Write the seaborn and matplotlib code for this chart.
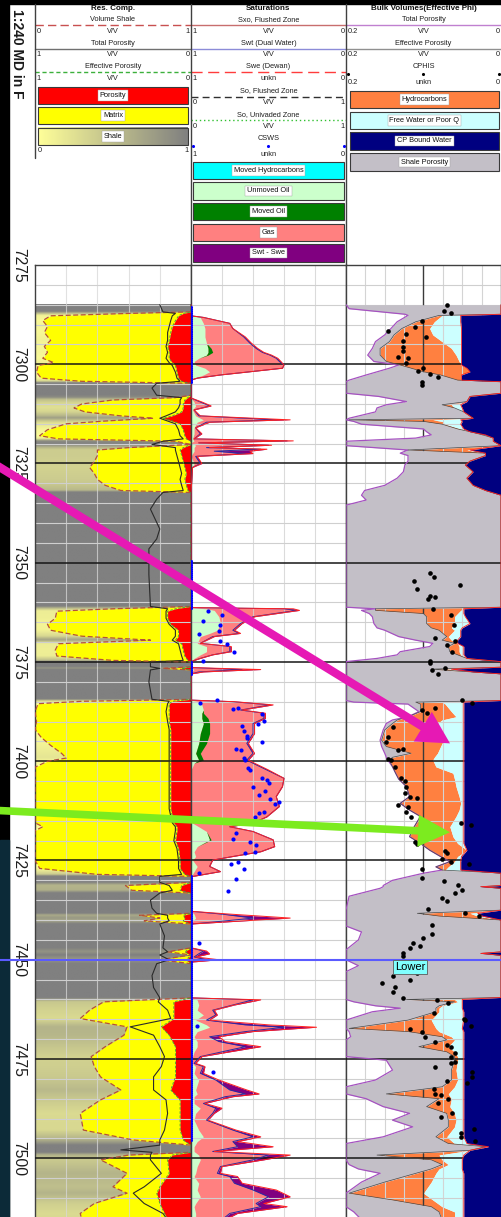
import numpy as np
import matplotlib
matplotlib.use("Agg")
import matplotlib.pyplot as plt
import matplotlib.transforms as mtransforms
from matplotlib.colors import LinearSegmentedColormap
from matplotlib.patches import Rectangle
import seaborn as sns

sns.set_style("white")
plt.rcParams["font.family"] = ["Liberation Sans", "DejaVu Sans"]

# ------------------------------------------------------------------
# Res. Comp. track: volume of shale, total and effective porosity
# ------------------------------------------------------------------
DEPTH_RC = [
    7285.0, 7286.8, 7287.2, 7287.8, 7289.0, 7290.5, 7292.0, 7294.0, 7295.5, 7297.0,
    7298.5, 7299.6, 7300.3, 7302.0, 7303.5, 7304.3, 7304.8, 7306.0, 7307.8, 7308.4,
    7309.0, 7310.0, 7311.0, 7312.0, 7313.0, 7313.6, 7314.3, 7315.0, 7316.5, 7318.0,
    7318.8, 7319.4, 7320.2, 7321.0, 7321.6, 7323.0, 7324.5, 7326.0, 7327.5, 7329.0,
    7330.5, 7331.8, 7332.3, 7334.0, 7336.5, 7339.0, 7341.5, 7344.0, 7346.5, 7353.0,
    7361.0, 7361.6, 7362.2, 7364.0, 7365.5, 7367.0, 7368.5, 7369.5, 7370.4, 7372.0,
    7373.5, 7374.6, 7375.0, 7376.2, 7376.6, 7377.0, 7380.0, 7384.4, 7384.9, 7385.5,
    7387.5, 7390.0, 7392.0, 7394.0, 7396.0, 7398.0, 7399.2, 7400.0, 7401.5, 7404.0,
    7408.0, 7412.0, 7415.5, 7416.5, 7417.5, 7420.0, 7422.0, 7425.0, 7427.0, 7428.5,
    7429.0, 7430.5, 7431.3, 7432.5, 7433.2, 7435.0, 7437.0, 7438.3, 7438.8, 7439.5,
    7440.2, 7441.0, 7444.0, 7447.0, 7448.0, 7448.8, 7450.0, 7451.0, 7454.0, 7457.0,
    7459.6, 7460.6, 7462.7, 7464.8, 7466.9, 7469.0, 7471.9, 7474.4, 7476.9, 7479.5,
    7482.8, 7485.3, 7488.7, 7492.9, 7495.4, 7496.7, 7497.9, 7498.5, 7499.2, 7500.4,
    7503.8, 7507.2, 7508.8, 7511.4, 7513.9, 7515.5]
VSH = [
    1.00, 1.00, 0.60, 0.10, 0.05, 0.08, 0.06, 0.10, 0.06, 0.08,
    0.05, 0.12, 0.02, 0.01, 0.04, 0.30, 1.00, 1.00, 1.00, 0.90,
    0.50, 0.30, 0.25, 0.32, 0.55, 0.76, 0.45, 0.20, 0.08, 0.03,
    0.15, 0.90, 1.00, 0.60, 0.40, 0.40, 0.38, 0.35, 0.38, 0.40,
    0.45, 0.55, 1.00, 1.00, 1.00, 1.00, 1.00, 1.00, 1.00, 1.00,
    1.00, 0.50, 0.14, 0.13, 0.08, 0.10, 0.30, 0.74, 0.15, 0.13,
    0.14, 0.50, 1.00, 1.00, 0.82, 1.00, 1.00, 1.00, 0.30, 0.02,
    0.00, 0.01, 0.00, 0.04, 0.10, 0.17, 0.20, 0.08, 0.00, 0.00,
    0.00, 0.00, 0.00, 0.05, 0.00, 0.00, 0.00, 0.00, 0.03, 0.40,
    1.00, 1.00, 0.58, 0.62, 1.00, 1.00, 1.00, 1.00, 0.67, 0.80,
    0.70, 1.00, 1.00, 1.00, 0.85, 1.00, 0.80, 1.00, 1.00, 1.00,
    1.00, 0.44, 0.35, 0.29, 0.59, 0.57, 0.45, 0.36, 0.38, 0.42,
    0.55, 0.42, 0.29, 0.31, 0.63, 1.00, 1.00, 1.00, 0.60, 0.42,
    0.59, 0.50, 0.59, 0.38, 0.29, 0.30]
PHIT = [
    0.20, 0.18, 0.10, 0.12, 0.13, 0.14, 0.15, 0.15, 0.16, 0.15,
    0.16, 0.14, 0.12, 0.10, 0.09, 0.07, 0.22, 0.25, 0.22, 0.06,
    0.07, 0.07, 0.08, 0.10, 0.16, 0.20, 0.15, 0.10, 0.08, 0.07,
    0.05, 0.18, 0.25, 0.10, 0.10, 0.09, 0.08, 0.07, 0.06, 0.07,
    0.06, 0.05, 0.18, 0.22, 0.26, 0.23, 0.20, 0.22, 0.27, 0.27,
    0.26, 0.15, 0.16, 0.16, 0.14, 0.10, 0.10, 0.12, 0.08, 0.07,
    0.06, 0.05, 0.26, 0.26, 0.20, 0.26, 0.27, 0.25, 0.14, 0.15,
    0.16, 0.15, 0.14, 0.14, 0.14, 0.14, 0.14, 0.14, 0.14, 0.14,
    0.14, 0.14, 0.12, 0.10, 0.10, 0.11, 0.09, 0.08, 0.08, 0.06,
    0.20, 0.20, 0.14, 0.12, 0.20, 0.26, 0.25, 0.22, 0.15, 0.15,
    0.14, 0.20, 0.17, 0.18, 0.15, 0.20, 0.14, 0.22, 0.25, 0.24,
    0.20, 0.21, 0.15, 0.13, 0.39, 0.24, 0.20, 0.17, 0.19, 0.24,
    0.24, 0.16, 0.15, 0.17, 0.20, 0.20, 0.45, 0.25, 0.26, 0.26,
    0.19, 0.30, 0.37, 0.30, 0.18, 0.15]
PHIE = [
    0.00, 0.00, 0.05, 0.08, 0.10, 0.12, 0.13, 0.14, 0.15, 0.14,
    0.14, 0.12, 0.10, 0.09, 0.08, 0.06, 0.00, 0.00, 0.00, 0.02,
    0.04, 0.05, 0.05, 0.06, 0.12, 0.18, 0.12, 0.07, 0.05, 0.04,
    0.03, 0.00, 0.00, 0.05, 0.07, 0.06, 0.05, 0.04, 0.03, 0.04,
    0.03, 0.02, 0.00, 0.00, 0.00, 0.00, 0.00, 0.00, 0.00, 0.00,
    0.00, 0.10, 0.15, 0.15, 0.13, 0.08, 0.08, 0.10, 0.06, 0.05,
    0.04, 0.02, 0.00, 0.00, 0.06, 0.00, 0.00, 0.00, 0.12, 0.14,
    0.14, 0.14, 0.13, 0.13, 0.13, 0.13, 0.13, 0.13, 0.13, 0.13,
    0.13, 0.13, 0.11, 0.09, 0.09, 0.10, 0.08, 0.07, 0.07, 0.04,
    0.00, 0.00, 0.06, 0.07, 0.00, 0.00, 0.00, 0.00, 0.05, 0.04,
    0.05, 0.00, 0.00, 0.00, 0.04, 0.00, 0.03, 0.00, 0.00, 0.00,
    0.00, 0.11, 0.11, 0.11, 0.19, 0.14, 0.10, 0.10, 0.10, 0.10,
    0.13, 0.07, 0.07, 0.07, 0.05, 0.00, 0.00, 0.00, 0.12, 0.15,
    0.14, 0.20, 0.22, 0.20, 0.17, 0.15]

# ------------------------------------------------------------------
# Saturations track
# ------------------------------------------------------------------
DEPTH_SAT = [
    7285.0, 7287.8, 7288.2, 7289.7, 7291.0, 7293.1, 7294.7, 7296.0, 7297.0, 7297.7,
    7298.5, 7299.3, 7300.2, 7301.0, 7301.9, 7302.7, 7303.5, 7304.0, 7308.5, 7309.5,
    7310.5, 7311.5, 7313.0, 7314.0, 7314.6, 7316.0, 7317.5, 7318.8, 7319.3, 7319.8,
    7320.4, 7321.0, 7321.4, 7321.9, 7322.5, 7323.2, 7325.0, 7326.0, 7332.5, 7361.3,
    7361.6, 7362.0, 7363.6, 7365.3, 7367.0, 7367.8, 7368.6, 7370.3, 7371.1, 7372.4,
    7373.2, 7374.1, 7374.9, 7376.4, 7376.9, 7377.5, 7378.0, 7384.6, 7385.0, 7385.8,
    7387.1, 7387.9, 7389.2, 7390.5, 7393.0, 7395.5, 7398.0, 7399.7, 7400.5, 7402.2,
    7404.3, 7406.4, 7408.9, 7411.4, 7414.0, 7415.6, 7416.5, 7417.7, 7419.8, 7421.5,
    7422.8, 7424.0, 7424.9, 7426.5, 7427.8, 7429.1, 7437.8, 7438.5, 7439.5, 7440.3,
    7441.0, 7447.0, 7447.8, 7448.5, 7449.3, 7450.0, 7450.6, 7459.6, 7460.1, 7461.4,
    7462.7, 7463.9, 7465.2, 7466.4, 7467.0, 7468.1, 7469.4, 7470.6, 7471.9, 7473.2,
    7474.4, 7476.1, 7476.9, 7478.6, 7480.3, 7482.8, 7483.8, 7484.5, 7486.2, 7487.4,
    7488.7, 7490.4, 7492.9, 7494.6, 7495.8, 7497.1, 7498.3, 7499.2, 7500.4, 7502.1,
    7503.8, 7504.6, 7506.3, 7508.0, 7509.7, 7511.4, 7512.2, 7513.9, 7515.5]
SWE = [
    1.00, 1.00, 0.92, 0.75, 0.73, 0.66, 0.62, 0.58, 0.54, 0.49,
    0.45, 0.43, 0.40, 0.41, 0.62, 0.81, 0.96, 1.00, 1.00, 0.94,
    0.88, 0.98, 0.95, 0.45, 0.90, 0.97, 0.94, 0.98, 0.38, 0.95,
    0.50, 0.90, 0.55, 0.85, 0.65, 0.97, 0.94, 0.99, 1.00, 1.00,
    0.40, 0.32, 0.60, 0.68, 0.73, 0.69, 0.86, 0.94, 0.75, 0.75,
    0.86, 0.94, 1.00, 1.00, 0.67, 0.95, 1.00, 1.00, 0.73, 0.49,
    0.68, 0.53, 0.53, 0.60, 0.60, 0.64, 0.60, 0.64, 0.60, 0.51,
    0.40, 0.41, 0.45, 0.43, 0.51, 0.60, 0.75, 0.60, 0.47, 0.46,
    0.55, 0.73, 0.86, 0.88, 0.81, 1.00, 1.00, 0.80, 0.60, 0.80,
    1.00, 1.00, 0.92, 0.95, 0.98, 0.90, 1.00, 1.00, 0.60, 0.73,
    0.86, 0.84, 0.90, 0.65, 0.40, 0.65, 0.88, 0.82, 0.65, 0.80,
    0.94, 0.98, 0.92, 0.94, 0.84, 0.75, 0.65, 0.78, 0.92, 0.84,
    0.86, 0.90, 0.73, 0.60, 0.73, 0.70, 0.86, 0.50, 0.60, 0.81,
    0.83, 0.75, 0.72, 0.60, 0.50, 0.58, 0.55, 0.75, 0.80]
SWT = [
    1.00, 1.00, 0.92, 0.75, 0.73, 0.65, 0.61, 0.57, 0.53, 0.48,
    0.44, 0.42, 0.40, 0.41, 0.62, 0.81, 0.96, 1.00, 1.00, 0.93,
    0.87, 0.98, 0.94, 0.36, 0.88, 0.97, 0.93, 0.98, 0.34, 0.95,
    0.48, 0.88, 0.51, 0.62, 0.60, 0.96, 0.93, 0.99, 1.00, 1.00,
    0.34, 0.30, 0.59, 0.67, 0.72, 0.68, 0.85, 0.94, 0.74, 0.74,
    0.86, 0.94, 1.00, 1.00, 0.55, 0.92, 1.00, 1.00, 0.72, 0.47,
    0.67, 0.52, 0.52, 0.59, 0.59, 0.63, 0.59, 0.63, 0.59, 0.50,
    0.40, 0.41, 0.45, 0.43, 0.51, 0.60, 0.75, 0.60, 0.47, 0.46,
    0.55, 0.73, 0.86, 0.88, 0.81, 1.00, 1.00, 0.75, 0.36, 0.70,
    1.00, 1.00, 0.90, 0.88, 0.97, 0.82, 1.00, 1.00, 0.55, 0.72,
    0.85, 0.83, 0.88, 0.50, 0.19, 0.60, 0.82, 0.78, 0.55, 0.75,
    0.93, 0.97, 0.91, 0.92, 0.82, 0.64, 0.56, 0.73, 0.91, 0.80,
    0.85, 0.89, 0.71, 0.55, 0.70, 0.47, 0.85, 0.36, 0.53, 0.80,
    0.81, 0.70, 0.67, 0.45, 0.36, 0.53, 0.38, 0.70, 0.78]
SOXO = [
    0.00, 0.00, 0.06, 0.08, 0.09, 0.09, 0.10, 0.11, 0.11, 0.10,
    0.05, 0.02, 0.03, 0.09, 0.12, 0.08, 0.02, 0.00, 0.00, 0.02,
    0.03, 0.01, 0.03, 0.08, 0.04, 0.02, 0.02, 0.01, 0.02, 0.00,
    0.03, 0.02, 0.02, 0.02, 0.01, 0.00, 0.02, 0.01, 0.00, 0.00,
    0.10, 0.15, 0.18, 0.19, 0.17, 0.12, 0.06, 0.04, 0.10, 0.10,
    0.06, 0.02, 0.00, 0.00, 0.02, 0.00, 0.00, 0.00, 0.05, 0.07,
    0.08, 0.07, 0.07, 0.08, 0.06, 0.05, 0.03, 0.05, 0.02, 0.00,
    0.00, 0.00, 0.00, 0.00, 0.00, 0.01, 0.05, 0.10, 0.12, 0.04,
    0.02, 0.03, 0.01, 0.04, 0.02, 0.00, 0.00, 0.02, 0.03, 0.01,
    0.00, 0.00, 0.00, 0.00, 0.00, 0.00, 0.00, 0.00, 0.04, 0.05,
    0.04, 0.08, 0.03, 0.10, 0.12, 0.04, 0.02, 0.04, 0.04, 0.02,
    0.01, 0.01, 0.03, 0.02, 0.05, 0.03, 0.04, 0.02, 0.02, 0.06,
    0.03, 0.02, 0.05, 0.08, 0.04, 0.02, 0.02, 0.05, 0.06, 0.04,
    0.03, 0.02, 0.05, 0.04, 0.06, 0.03, 0.02, 0.03, 0.03]
SO = [
    0.00, 0.00, 0.06, 0.08, 0.09, 0.09, 0.10, 0.13, 0.14, 0.11,
    0.05, 0.02, 0.03, 0.09, 0.12, 0.08, 0.02, 0.00, 0.00, 0.02,
    0.03, 0.01, 0.03, 0.08, 0.04, 0.02, 0.02, 0.01, 0.02, 0.00,
    0.03, 0.02, 0.02, 0.02, 0.01, 0.00, 0.02, 0.01, 0.00, 0.00,
    0.10, 0.15, 0.18, 0.19, 0.17, 0.12, 0.06, 0.04, 0.10, 0.10,
    0.06, 0.02, 0.00, 0.00, 0.02, 0.00, 0.00, 0.00, 0.05, 0.07,
    0.08, 0.08, 0.11, 0.12, 0.12, 0.10, 0.06, 0.08, 0.02, 0.00,
    0.00, 0.00, 0.00, 0.00, 0.00, 0.01, 0.05, 0.10, 0.13, 0.04,
    0.02, 0.03, 0.01, 0.04, 0.02, 0.00, 0.00, 0.02, 0.03, 0.01,
    0.00, 0.00, 0.00, 0.00, 0.00, 0.00, 0.00, 0.00, 0.04, 0.05,
    0.04, 0.08, 0.03, 0.10, 0.12, 0.04, 0.02, 0.04, 0.04, 0.02,
    0.01, 0.01, 0.03, 0.02, 0.05, 0.03, 0.04, 0.02, 0.02, 0.06,
    0.03, 0.02, 0.05, 0.08, 0.04, 0.02, 0.02, 0.05, 0.06, 0.04,
    0.03, 0.02, 0.05, 0.04, 0.06, 0.03, 0.02, 0.03, 0.03]

# CSWS samples away from unity, and intervals logged at CSWS = 1
CSWS_DEPTH = [
    7362.1, 7364.6, 7363.2, 7365.7, 7367.1, 7367.9, 7369.6, 7370.5, 7372.6, 7374.7,
    7384.6, 7385.4, 7386.9, 7386.7, 7388.1, 7389.8, 7390.6, 7391.1, 7392.3, 7393.6,
    7394.2, 7395.1, 7396.8, 7397.2, 7399.3, 7399.7, 7401.8, 7402.2, 7404.1, 7404.7,
    7405.4, 7406.6, 7407.5, 7408.5, 7409.6, 7410.8, 7410.2, 7412.7, 7413.1, 7414.0,
    7418.0, 7419.7, 7420.3, 7421.1, 7422.8, 7423.2, 7425.5, 7425.9, 7427.2, 7428.1,
    7429.7, 7432.6, 7445.7, 7466.7, 7478.2]
CSWS = [
    0.89, 0.92, 0.80, 0.81, 0.82, 0.95, 0.81, 0.77, 0.72, 0.92,
    0.83, 0.94, 0.73, 0.70, 0.54, 0.53, 0.57, 0.67, 0.66, 0.64,
    0.64, 0.54, 0.71, 0.68, 0.66, 0.65, 0.63, 0.62, 0.54, 0.51,
    0.50, 0.60, 0.52, 0.56, 0.49, 0.46, 0.43, 0.53, 0.56, 0.59,
    0.71, 0.73, 0.62, 0.58, 0.59, 0.65, 0.70, 0.74, 0.66, 0.95,
    0.71, 0.76, 0.95, 0.96, 0.86]
CSWS_UNITY_INTERVALS = [(7285.5, 7305.0), (7349.5, 7362.0), (7375.0, 7378.5), (7429.0, 7496.0)]
CSWS_STEP = 0.5

# ------------------------------------------------------------------
# Bulk volumes track (effective porosity partition)
# ------------------------------------------------------------------
DEPTH_BV = [
    7285.0, 7286.0, 7287.4, 7287.7, 7289.3, 7291.0, 7292.6, 7294.3, 7296.0, 7297.7,
    7299.3, 7300.2, 7301.0, 7301.9, 7302.7, 7304.0, 7304.4, 7307.3, 7308.1, 7309.4,
    7310.2, 7311.0, 7312.0, 7313.6, 7314.0, 7314.4, 7315.1, 7316.3, 7317.0, 7317.8,
    7318.6, 7319.4, 7320.5, 7321.6, 7322.4, 7323.0, 7324.4, 7325.4, 7327.1, 7328.7,
    7330.5, 7331.8, 7333.0, 7334.2, 7335.5, 7361.2, 7361.6, 7362.0, 7362.8, 7363.6,
    7365.3, 7366.4, 7367.0, 7368.6, 7369.5, 7370.3, 7371.1, 7372.4, 7373.2, 7374.1,
    7374.9, 7376.3, 7376.8, 7377.5, 7378.0, 7384.7, 7385.1, 7385.6, 7387.5, 7388.8,
    7389.6, 7390.5, 7392.1, 7394.7, 7396.3, 7398.0, 7399.0, 7399.7, 7401.4, 7403.0,
    7404.5, 7406.4, 7408.9, 7410.6, 7412.3, 7413.9, 7416.5, 7419.0, 7420.7, 7422.4,
    7424.0, 7425.3, 7426.6, 7427.4, 7428.2, 7430.0, 7431.3, 7431.6, 7432.0, 7434.0,
    7437.5, 7438.3, 7439.0, 7440.0, 7441.5, 7443.0, 7445.0, 7447.5, 7448.0, 7448.4,
    7448.9, 7450.0, 7451.5, 7453.0, 7459.5, 7460.0, 7460.6, 7461.6, 7462.2, 7463.1,
    7465.2, 7467.3, 7468.1, 7469.4, 7470.2, 7471.9, 7473.2, 7474.4, 7475.3, 7477.8,
    7480.3, 7482.0, 7483.8, 7485.0, 7487.0, 7488.7, 7490.4, 7492.1, 7494.6, 7496.3,
    7497.1, 7498.0, 7499.2, 7500.4, 7501.6, 7502.7, 7503.8, 7506.0, 7508.8, 7510.5,
    7512.2, 7513.5, 7515.5]
BV_PHIT = [
    0.200, 0.196, 0.124, 0.120, 0.134, 0.142, 0.150, 0.162, 0.166, 0.172,
    0.164, 0.132, 0.144, 0.160, 0.174, 0.196, 0.200, 0.200, 0.158, 0.122,
    0.148, 0.160, 0.162, 0.196, 0.200, 0.190, 0.180, 0.100, 0.096, 0.090,
    0.110, 0.200, 0.200, 0.120, 0.130, 0.120, 0.120, 0.124, 0.126, 0.134,
    0.150, 0.176, 0.180, 0.174, 0.200, 0.200, 0.162, 0.180, 0.170, 0.166,
    0.164, 0.160, 0.150, 0.132, 0.110, 0.088, 0.092, 0.130, 0.134, 0.160,
    0.200, 0.200, 0.200, 0.200, 0.200, 0.200, 0.190, 0.120, 0.106, 0.120,
    0.140, 0.148, 0.152, 0.156, 0.154, 0.150, 0.148, 0.146, 0.140, 0.136,
    0.132, 0.122, 0.118, 0.130, 0.118, 0.104, 0.112, 0.118, 0.104, 0.092,
    0.078, 0.066, 0.084, 0.076, 0.100, 0.140, 0.152, 0.152, 0.156, 0.196,
    0.200, 0.200, 0.200, 0.200, 0.200, 0.180, 0.184, 0.200, 0.200, 0.200,
    0.200, 0.200, 0.184, 0.200, 0.200, 0.200, 0.190, 0.162, 0.130, 0.166,
    0.200, 0.200, 0.196, 0.194, 0.200, 0.200, 0.200, 0.200, 0.148, 0.140,
    0.162, 0.200, 0.200, 0.174, 0.152, 0.118, 0.140, 0.114, 0.152, 0.200,
    0.200, 0.200, 0.200, 0.200, 0.196, 0.184, 0.156, 0.180, 0.200, 0.200,
    0.200, 0.190, 0.180]
BV_PHIE = [
    0.000, 0.000, 0.000, 0.080, 0.110, 0.128, 0.138, 0.144, 0.156, 0.156,
    0.148, 0.130, 0.116, 0.100, 0.078, 0.056, 0.000, 0.000, 0.040, 0.044,
    0.076, 0.060, 0.048, 0.036, 0.196, 0.100, 0.076, 0.056, 0.040, 0.024,
    0.010, 0.010, 0.000, 0.120, 0.020, 0.020, 0.040, 0.046, 0.036, 0.044,
    0.036, 0.020, 0.000, 0.000, 0.000, 0.000, 0.162, 0.162, 0.100, 0.096,
    0.096, 0.090, 0.080, 0.070, 0.076, 0.060, 0.068, 0.066, 0.056, 0.044,
    0.000, 0.000, 0.090, 0.040, 0.000, 0.000, 0.110, 0.104, 0.104, 0.120,
    0.134, 0.140, 0.150, 0.154, 0.148, 0.116, 0.140, 0.144, 0.140, 0.136,
    0.132, 0.122, 0.118, 0.130, 0.118, 0.104, 0.112, 0.118, 0.104, 0.092,
    0.078, 0.066, 0.084, 0.076, 0.000, 0.000, 0.000, 0.026, 0.000, 0.000,
    0.000, 0.108, 0.080, 0.000, 0.000, 0.000, 0.000, 0.000, 0.000, 0.026,
    0.000, 0.000, 0.000, 0.000, 0.000, 0.122, 0.060, 0.080, 0.084, 0.084,
    0.120, 0.196, 0.120, 0.076, 0.070, 0.106, 0.070, 0.060, 0.060, 0.064,
    0.064, 0.076, 0.148, 0.080, 0.096, 0.070, 0.068, 0.068, 0.084, 0.068,
    0.020, 0.040, 0.160, 0.090, 0.076, 0.090, 0.110, 0.150, 0.196, 0.140,
    0.090, 0.080, 0.076]
BVW = [
    0.000, 0.000, 0.000, 0.076, 0.086, 0.092, 0.088, 0.076, 0.064, 0.058,
    0.054, 0.052, 0.044, 0.040, 0.052, 0.052, 0.000, 0.000, 0.040, 0.044,
    0.064, 0.060, 0.048, 0.036, 0.088, 0.076, 0.072, 0.052, 0.040, 0.024,
    0.010, 0.010, 0.000, 0.044, 0.020, 0.020, 0.040, 0.046, 0.036, 0.044,
    0.036, 0.020, 0.000, 0.000, 0.000, 0.000, 0.048, 0.052, 0.056, 0.060,
    0.060, 0.064, 0.060, 0.068, 0.064, 0.056, 0.054, 0.054, 0.052, 0.044,
    0.000, 0.000, 0.070, 0.040, 0.000, 0.000, 0.076, 0.072, 0.064, 0.058,
    0.076, 0.082, 0.078, 0.074, 0.078, 0.082, 0.086, 0.088, 0.084, 0.062,
    0.060, 0.058, 0.054, 0.052, 0.054, 0.058, 0.066, 0.062, 0.056, 0.044,
    0.056, 0.060, 0.068, 0.072, 0.000, 0.000, 0.000, 0.026, 0.000, 0.000,
    0.000, 0.040, 0.030, 0.000, 0.000, 0.000, 0.000, 0.000, 0.000, 0.026,
    0.000, 0.000, 0.000, 0.000, 0.000, 0.060, 0.056, 0.076, 0.080, 0.080,
    0.090, 0.084, 0.080, 0.064, 0.060, 0.068, 0.060, 0.056, 0.056, 0.058,
    0.056, 0.060, 0.068, 0.064, 0.066, 0.060, 0.058, 0.060, 0.070, 0.060,
    0.020, 0.040, 0.080, 0.076, 0.068, 0.080, 0.084, 0.090, 0.100, 0.088,
    0.076, 0.060, 0.060]
CBW = [
    0.000, 0.000, 0.000, 0.052, 0.052, 0.051, 0.051, 0.051, 0.051, 0.051,
    0.051, 0.051, 0.044, 0.040, 0.051, 0.051, 0.000, 0.000, 0.040, 0.044,
    0.052, 0.050, 0.048, 0.036, 0.052, 0.050, 0.052, 0.048, 0.040, 0.020,
    0.010, 0.010, 0.000, 0.040, 0.020, 0.020, 0.040, 0.046, 0.036, 0.044,
    0.036, 0.020, 0.000, 0.000, 0.000, 0.000, 0.048, 0.048, 0.048, 0.046,
    0.040, 0.050, 0.052, 0.052, 0.056, 0.056, 0.048, 0.048, 0.048, 0.044,
    0.000, 0.000, 0.064, 0.036, 0.000, 0.000, 0.048, 0.048, 0.048, 0.048,
    0.048, 0.048, 0.048, 0.048, 0.048, 0.048, 0.048, 0.048, 0.048, 0.048,
    0.048, 0.048, 0.048, 0.048, 0.048, 0.048, 0.048, 0.048, 0.048, 0.044,
    0.051, 0.052, 0.052, 0.052, 0.000, 0.000, 0.000, 0.026, 0.000, 0.000,
    0.000, 0.030, 0.024, 0.000, 0.000, 0.000, 0.000, 0.000, 0.000, 0.026,
    0.000, 0.000, 0.000, 0.000, 0.000, 0.050, 0.050, 0.050, 0.050, 0.048,
    0.048, 0.050, 0.048, 0.048, 0.048, 0.048, 0.048, 0.048, 0.048, 0.048,
    0.048, 0.048, 0.048, 0.048, 0.048, 0.048, 0.048, 0.048, 0.048, 0.044,
    0.016, 0.040, 0.048, 0.050, 0.050, 0.050, 0.048, 0.048, 0.048, 0.048,
    0.048, 0.048, 0.048]

CPHIS_DEPTH = [
    7285.1, 7286.5, 7287.2, 7289.1, 7290.5, 7291.6, 7292.5, 7294.1, 7295.6, 7296.7,
    7298.1, 7298.5, 7299.8, 7293.1, 7301.7, 7301.0, 7302.5, 7303.1, 7304.4, 7305.2,
    7352.5, 7353.7, 7354.5, 7355.6, 7356.6, 7358.4, 7358.7, 7359.2, 7361.7, 7363.2,
    7365.7, 7369.0, 7370.7, 7369.6, 7372.4, 7374.8, 7375.2, 7377.0, 7378.1, 7376.6,
    7384.6, 7385.4, 7387.1, 7386.7, 7387.9, 7391.3, 7393.8, 7395.1, 7399.7, 7399.5,
    7397.2, 7396.8, 7401.4, 7404.3, 7404.9, 7406.4, 7408.1, 7408.9, 7409.3, 7411.0,
    7411.4, 7412.7, 7414.0, 7420.3, 7420.9, 7422.5, 7423.0, 7424.5, 7425.5, 7425.9,
    7415.6, 7416.1, 7427.2, 7429.5, 7430.1, 7431.2, 7432.4, 7433.3, 7435.1, 7434.5,
    7437.1, 7438.3, 7439.0, 7441.3, 7444.6, 7443.5, 7445.7, 7446.5, 7447.1, 7448.2,
    7449.1, 7453.4, 7454.1, 7455.1, 7455.9, 7456.9, 7458.0, 7459.7, 7460.1, 7461.0,
    7464.8, 7465.2, 7466.7, 7463.5, 7467.5, 7468.1, 7469.4, 7470.6, 7471.5, 7471.9,
    7473.4, 7474.4, 7475.7, 7476.1, 7477.1, 7478.2, 7479.6, 7481.1, 7480.5, 7482.6,
    7483.7, 7484.1, 7486.2, 7485.2, 7488.5, 7489.5, 7493.6, 7494.6, 7492.6, 7495.6]
CPHIS = [
    0.070, 0.074, 0.065, 0.102, 0.111, 0.146, 0.123, 0.127, 0.127, 0.127,
    0.133, 0.120, 0.122, 0.097, 0.107, 0.100, 0.092, 0.081, 0.102, 0.102,
    0.092, 0.087, 0.112, 0.053, 0.108, 0.092, 0.085, 0.094, 0.088, 0.065,
    0.061, 0.085, 0.070, 0.059, 0.063, 0.092, 0.092, 0.089, 0.081, 0.072,
    0.050, 0.037, 0.102, 0.085, 0.096, 0.139, 0.146, 0.148, 0.142, 0.146,
    0.133, 0.126, 0.137, 0.129, 0.124, 0.122, 0.124, 0.118, 0.109, 0.133,
    0.120, 0.122, 0.116, 0.111, 0.109, 0.072, 0.070, 0.076, 0.065, 0.041,
    0.051, 0.039, 0.102, 0.102, 0.074, 0.055, 0.050, 0.059, 0.070, 0.076,
    0.094, 0.046, 0.028, 0.089, 0.100, 0.089, 0.113, 0.105, 0.118, 0.126,
    0.126, 0.109, 0.139, 0.118, 0.153, 0.137, 0.139, 0.126, 0.083, 0.068,
    0.048, 0.046, 0.039, 0.087, 0.118, 0.102, 0.098, 0.085, 0.070, 0.065,
    0.059, 0.065, 0.059, 0.065, 0.085, 0.037, 0.037, 0.044, 0.070, 0.087,
    0.085, 0.078, 0.081, 0.068, 0.063, 0.078, 0.052, 0.052, 0.035, 0.033]

DEPTH_LABELS = [7275, 7300, 7325, 7350, 7375, 7400, 7425, 7450, 7475, 7500]
ZONE_MARKER_DEPTH = 7450.0
ZONE_MARKER_TEXT = "Lower"
TOP_DEPTH, BASE_DEPTH = 7275.0, 7514.8

# ------------------------------------------------------------------
# Colours
# ------------------------------------------------------------------
C_POROSITY = "#FF0000"
C_MATRIX = "#FFFF00"
C_GAS = "#FF8080"
C_UNMOVED = "#CCFFCC"
C_MOVED_OIL = "#008000"
C_MOVED_HC = "#00FFFF"
C_SWT_SWE = "#800080"
C_HC = "#FF8040"
C_FREE_WATER = "#CCFFFF"
C_CP_BOUND = "#000080"
C_SHALE_POR = "#C3BFC7"
shale_cmap = LinearSegmentedColormap.from_list("shale", ["#FFFF99", "#808080"])

D_RC = np.array(DEPTH_RC)
D_SAT = np.array(DEPTH_SAT)
D_BV = np.array(DEPTH_BV)

# ------------------------------------------------------------------
# Figure layout (pixel based, 100 dpi)
# ------------------------------------------------------------------
W, H = 502, 1217
TOP_PX = 265
fig = plt.figure(figsize=(W / 100, H / 100), dpi=100, facecolor="white")

bg = fig.add_axes([0, 0, 1, 1])
bg.set_xlim(0, W)
bg.set_ylim(H, 0)
bg.axis("off")
bg.add_patch(Rectangle((0, 0), 9, H, color="black", zorder=0))
bg.add_patch(Rectangle((0, 0), W, 3.5, color="black", zorder=0))
bg.add_patch(Rectangle((0, 840), 9, H - 840, color="#0c2a38", zorder=0))
bg.text(17, 9, "1:240 MD in F", rotation=-90, ha="center", va="top",
        fontsize=10, fontweight="bold", color="#1a1a1a")

HDR_FS = 5.3


def header_title(xc, y, s):
    bg.text(xc, y, s, ha="center", va="center", fontsize=5.8,
            fontweight="bold", color="#101010", zorder=5)


def scale_row(x0, x1, y, labels):
    lo, unit, hi = labels
    bg.text(x0 + 1.5, y, lo, ha="left", va="center", fontsize=HDR_FS, color="#202020")
    bg.text((x0 + x1) / 2, y, unit, ha="center", va="center", fontsize=HDR_FS, color="#202020")
    bg.text(x1 - 1.5, y, hi, ha="right", va="center", fontsize=HDR_FS, color="#202020")


def curve_entry(x0, x1, y_name, name, y_line, style, y_scale, labels):
    bg.text((x0 + x1) / 2, y_name, name, ha="center", va="center",
            fontsize=HDR_FS, color="#202020")
    bg.plot([x0, x1], [y_line, y_line], **style)
    scale_row(x0, x1, y_scale, labels)


def dot_entry(x0, x1, y_name, name, y_dots, color, y_scale, labels):
    bg.text((x0 + x1) / 2, y_name, name, ha="center", va="center",
            fontsize=HDR_FS, color="#202020")
    bg.scatter([x0 + 2, (x0 + x1) / 2, x1 - 2], [y_dots] * 3, s=5, color=color, lw=0)
    scale_row(x0, x1, y_scale, labels)


def legend_box(x0, x1, y0, y1, color, label, gradient=False):
    if gradient:
        bg.imshow(np.linspace(0, 1, 256)[None, :], extent=(x0, x1, y1, y0),
                  cmap=shale_cmap, aspect="auto", zorder=1)
    else:
        bg.add_patch(Rectangle((x0, y0), x1 - x0, y1 - y0, fc=color, ec="none", zorder=1))
    bg.add_patch(Rectangle((x0, y0), x1 - x0, y1 - y0, fill=False,
                           ec="#3a3a3a", lw=0.8, zorder=2))
    bg.text((x0 + x1) / 2, (y0 + y1) / 2, label, ha="center", va="center",
            fontsize=HDR_FS, color="#101010", zorder=3,
            bbox=dict(boxstyle="square,pad=0.25", fc="white", ec="#a0a0a0", lw=0.3))


# --- Res. Comp. header
T1 = (35, 191)
header_title(113, 8.5, "Res. Comp.")
curve_entry(*T1, 19.3, "Volume Shale", 24.5,
            dict(color="#C85050", lw=1.0, ls=(0, (6, 3))), 31.5, ("0", "V/V", "1"))
curve_entry(*T1, 43.3, "Total Porosity", 49,
            dict(color="#707070", lw=1.0), 55, ("1", "V/V", "0"))
curve_entry(*T1, 66.7, "Effective Porosity", 72,
            dict(color="#3CB03C", lw=1.0, ls=(0, (3, 2))), 79, ("1", "V/V", "0"))
legend_box(38, 188, 86.7, 104, C_POROSITY, "Porosity")
legend_box(38, 188, 107.3, 124.3, C_MATRIX, "Matrix")
legend_box(38, 188, 127.7, 145, None, "Shale", gradient=True)
scale_row(36, 190, 151, ("0", "", "1"))
bg.plot([35, 35], [4, 158], color="#404040", lw=1.0)

# --- Saturations header
T2 = (191, 346)
header_title(268.5, 8.5, "Saturations")
curve_entry(*T2, 19.3, "Sxo, Flushed Zone", 24.5,
            dict(color="#C86E6E", lw=1.0), 31.5, ("1", "V/V", "0"))
curve_entry(*T2, 43.3, "Swt (Dual Water)", 49,
            dict(color="#8C8CD8", lw=1.0), 55, ("1", "V/V", "0"))
curve_entry(*T2, 66.7, "Swe (Dewan)", 72,
            dict(color="#FF3C3C", lw=1.0, ls=(0, (8, 4))), 79, ("1", "unkn", "0"))
curve_entry(*T2, 90.7, "So, Flushed Zone", 97,
            dict(color="#303030", lw=1.0, ls=(0, (5, 3))), 102, ("0", "V/V", "1"))
curve_entry(*T2, 114.3, "So, Univaded Zone", 120,
            dict(color="#30C030", lw=1.0, ls=(0, (1, 2))), 126, ("0", "V/V", "1"))
dot_entry(*T2, 138.3, "CSWS", 146, "#0000FF", 154, ("1", "unkn", "0"))
legend_box(193, 344, 161.7, 179, C_MOVED_HC, "Moved Hydrocarbons")
legend_box(193, 344, 182.3, 199.7, C_UNMOVED, "Unmoved Oil")
legend_box(193, 344, 203, 220.3, C_MOVED_OIL, "Moved Oil")
legend_box(193, 344, 223.7, 241, C_GAS, "Gas")
legend_box(193, 344, 244.3, 261.7, C_SWT_SWE, "Swt - Swe")

# --- Bulk volumes header
T3 = (346, 501)
header_title(423.5, 8.5, "Bulk Volumes(Effective Phi)")
curve_entry(*T3, 19.3, "Total Porosity", 24.5,
            dict(color="#C080D0", lw=1.0), 31.5, ("0.2", "V/V", "0"))
curve_entry(*T3, 43.3, "Effective Porosity", 49,
            dict(color="#909090", lw=1.0), 55, ("0.2", "V/V", "0"))
dot_entry(*T3, 66.7, "CPHIS", 74, "black", 82.3, ("0.2", "unkn", "0"))
legend_box(350, 499, 90.7, 108.3, C_HC, "Hydrocarbons")
legend_box(350, 499, 111.7, 129, C_FREE_WATER, "Free Water or Poor Q")
legend_box(350, 499, 132, 150, C_CP_BOUND, "CP Bound Water")
legend_box(350, 499, 153.3, 170.7, C_SHALE_POR, "Shale Porosity")

for xsep in (191, 346):
    bg.plot([xsep, xsep], [4, TOP_PX], color="#404040", lw=1.0)
bg.set_xlim(0, W)
bg.set_ylim(H, 0)


# ------------------------------------------------------------------
# Track axes
# ------------------------------------------------------------------
def track_axes(x0, x1):
    ax = fig.add_axes([x0 / W, 0, (x1 - x0) / W, (H - TOP_PX) / H])
    ax.set_facecolor("white")
    return ax


def depth_grid(ax, z_minor, z_major, color="#cfcfcf"):
    for d in range(7280, 7515, 5):
        if d % 25:
            ax.axhline(d, color=color, lw=0.8, zorder=z_minor)
    for d in DEPTH_LABELS[1:]:
        ax.axhline(d, color="#161616", lw=1.1, zorder=z_major)


ax1 = track_axes(*T1)
ax2 = track_axes(*T2)
ax3 = track_axes(*T3)

# --- Res. Comp.
vsh = np.array(VSH)
matrix_edge = 1 - np.array(PHIE)
fine = np.linspace(D_RC[0], D_RC[-1], 3000)
ax1.imshow(np.interp(fine, D_RC, vsh)[:, None], extent=(0, 1, D_RC[-1], D_RC[0]),
           origin="upper", aspect="auto", cmap=shale_cmap, vmin=0, vmax=1,
           interpolation="bilinear", zorder=0.5)
ax1.fill_betweenx(D_RC, vsh, matrix_edge, color=C_MATRIX, lw=0, zorder=1)
ax1.fill_betweenx(D_RC, matrix_edge, 1, color=C_POROSITY, lw=0, zorder=1.1)
for xv in (0.2, 0.4, 0.6, 0.8):
    ax1.axvline(xv, color="#d8d8d8", lw=0.8, alpha=0.75, zorder=2.5)
depth_grid(ax1, 2.5, 3)
sns.lineplot(x=vsh, y=D_RC, ax=ax1, orient="y", sort=False, estimator=None,
             color="#B4503A", linewidth=0.9, linestyle=(0, (4, 2)), zorder=4)
sns.lineplot(x=1 - np.array(PHIT), y=D_RC, ax=ax1, orient="y", sort=False,
             estimator=None, color="#2a2a2a", linewidth=0.8, zorder=4)
sns.lineplot(x=matrix_edge, y=D_RC, ax=ax1, orient="y", sort=False, estimator=None,
             color="#3CA03C", linewidth=0.6, linestyle=(0, (3, 2)), zorder=4)

# --- Saturations (Sw scale 1 -> 0, So scale 0 -> 1)
swe = np.array(SWE)
swt = np.array(SWT)
so_xo_pos = 1 - np.array(SOXO)
so_pos = 1 - np.array(SO)
ax2.fill_betweenx(D_SAT, 1, swe, color=C_GAS, lw=0, zorder=1)
ax2.fill_betweenx(D_SAT, swe, swt, color=C_SWT_SWE, lw=0, zorder=1.1)
ax2.fill_betweenx(D_SAT, 1, so_xo_pos, color=C_UNMOVED, lw=0, zorder=1.2)
ax2.fill_betweenx(D_SAT, so_xo_pos, so_pos, color=C_MOVED_OIL, lw=0, zorder=1.3)
for xv in (0.2, 0.4, 0.6, 0.8):
    ax2.axvline(xv, color="#d2d2d2", lw=0.8, alpha=0.8, zorder=2.5)
depth_grid(ax2, 2.5, 3)
sns.lineplot(x=swe, y=D_SAT, ax=ax2, orient="y", sort=False, estimator=None,
             color="#2a2aa0", linewidth=0.7, zorder=4)
sns.lineplot(x=swt, y=D_SAT, ax=ax2, orient="y", sort=False, estimator=None,
             color="#FF2020", linewidth=0.7, zorder=4)
unity_depths = np.concatenate([np.arange(a, b, CSWS_STEP) for a, b in CSWS_UNITY_INTERVALS])
sns.scatterplot(x=np.ones_like(unity_depths), y=unity_depths, ax=ax2, color="#0000FF",
                s=5, linewidth=0, zorder=5, legend=False)
sns.scatterplot(x=CSWS, y=CSWS_DEPTH, ax=ax2, color="#0000FF", s=9, linewidth=0,
                zorder=5, legend=False)

# --- Bulk volumes (scale 0.2 -> 0)
bv_phit = np.array(BV_PHIT)
bv_phie = np.array(BV_PHIE)
bvw = np.array(BVW)
cbw = np.array(CBW)
ax3.fill_betweenx(D_BV, bv_phie, bvw, color=C_HC, lw=0, zorder=1)
ax3.fill_betweenx(D_BV, bvw, cbw, color=C_FREE_WATER, lw=0, zorder=1.1)
for xv in (0.025, 0.05, 0.075, 0.125, 0.15, 0.175):
    ax3.axvline(xv, color="#d4d4d4", lw=0.8, zorder=2)
depth_grid(ax3, 2, 3)
ax3.axvline(0.1, color="#3a3a3a", lw=1.0, zorder=2.2)
ax3.fill_betweenx(D_BV, bv_phit, bv_phie, color=C_SHALE_POR, lw=0, zorder=2.5)
ax3.fill_betweenx(D_BV, cbw, 0, color=C_CP_BOUND, lw=0, zorder=3.5)
sns.lineplot(x=bv_phit, y=D_BV, ax=ax3, orient="y", sort=False, estimator=None,
             color="#A552C0", linewidth=0.9, zorder=4)
sns.lineplot(x=bv_phie, y=D_BV, ax=ax3, orient="y", sort=False, estimator=None,
             color="#4a4a4a", linewidth=0.5, zorder=4)
sns.lineplot(x=cbw, y=D_BV, ax=ax3, orient="y", sort=False, estimator=None,
             color="#FF2020", linewidth=0.6, zorder=4)
sns.scatterplot(x=CPHIS, y=CPHIS_DEPTH, ax=ax3, color="black", s=11, linewidth=0,
                zorder=5, legend=False)

# --- common axis styling
for ax, xlim in ((ax1, (0, 1)), (ax2, (1, 0)), (ax3, (0.2, 0))):
    ax.set_xlim(*xlim)
    ax.set_ylim(BASE_DEPTH, TOP_DEPTH)
    ax.set_xticks([])
    ax.set_yticks([])
    ax.set_xlabel("")
    ax.set_ylabel("")
    for side in ("top", "left", "right"):
        ax.spines[side].set_color("#404040")
        ax.spines[side].set_linewidth(1.0)
    ax.spines["bottom"].set_visible(False)

# --- depth labels
depth_tf = mtransforms.blended_transform_factory(fig.transFigure, ax1.transData)
for d in DEPTH_LABELS:
    ax1.text(19 / W, d, str(d), transform=depth_tf, rotation=-90, ha="center",
             va="center", fontsize=11.3, color="#1e1e1e", clip_on=False)

# --- zone marker line and label
marker_tf = mtransforms.blended_transform_factory(fig.transFigure, ax3.transData)
ax3.plot([0, 1], [ZONE_MARKER_DEPTH, ZONE_MARKER_DEPTH], transform=marker_tf,
         color="#5A5AFF", lw=1.5, clip_on=False, zorder=6)
ax3.text(0.1174, 7451.8, ZONE_MARKER_TEXT, ha="center", va="center", fontsize=8,
         color="black", zorder=7,
         bbox=dict(boxstyle="square,pad=0.15", fc="#80FFFF", ec="#5a5a5a", lw=0.6))

# --- call-out arrows into the hydrocarbon interval
ax3.annotate("", xy=(0.0658, 7395.5), xycoords="data",
             xytext=(-12, H - 460), textcoords="figure pixels",
             arrowprops=dict(arrowstyle="simple,head_length=2.3,head_width=2.5,tail_width=0.6",
                             fc="#E619B4", ec="none", mutation_scale=10,
                             shrinkA=0, shrinkB=0),
             annotation_clip=False, zorder=20)
ax3.annotate("", xy=(0.0658, 7417.9), xycoords="data",
             xytext=(-12, H - 810), textcoords="figure pixels",
             arrowprops=dict(arrowstyle="simple,head_length=2.3,head_width=2.3,tail_width=0.55",
                             fc="#7CEB1F", ec="none", mutation_scale=10,
                             shrinkA=0, shrinkB=0),
             annotation_clip=False, zorder=20)

for ax, xlim in ((ax1, (0, 1)), (ax2, (1, 0)), (ax3, (0.2, 0))):
    ax.set_xlim(*xlim)
    ax.set_ylim(BASE_DEPTH, TOP_DEPTH)

fig.savefig("out.png", dpi=100, facecolor="white")
